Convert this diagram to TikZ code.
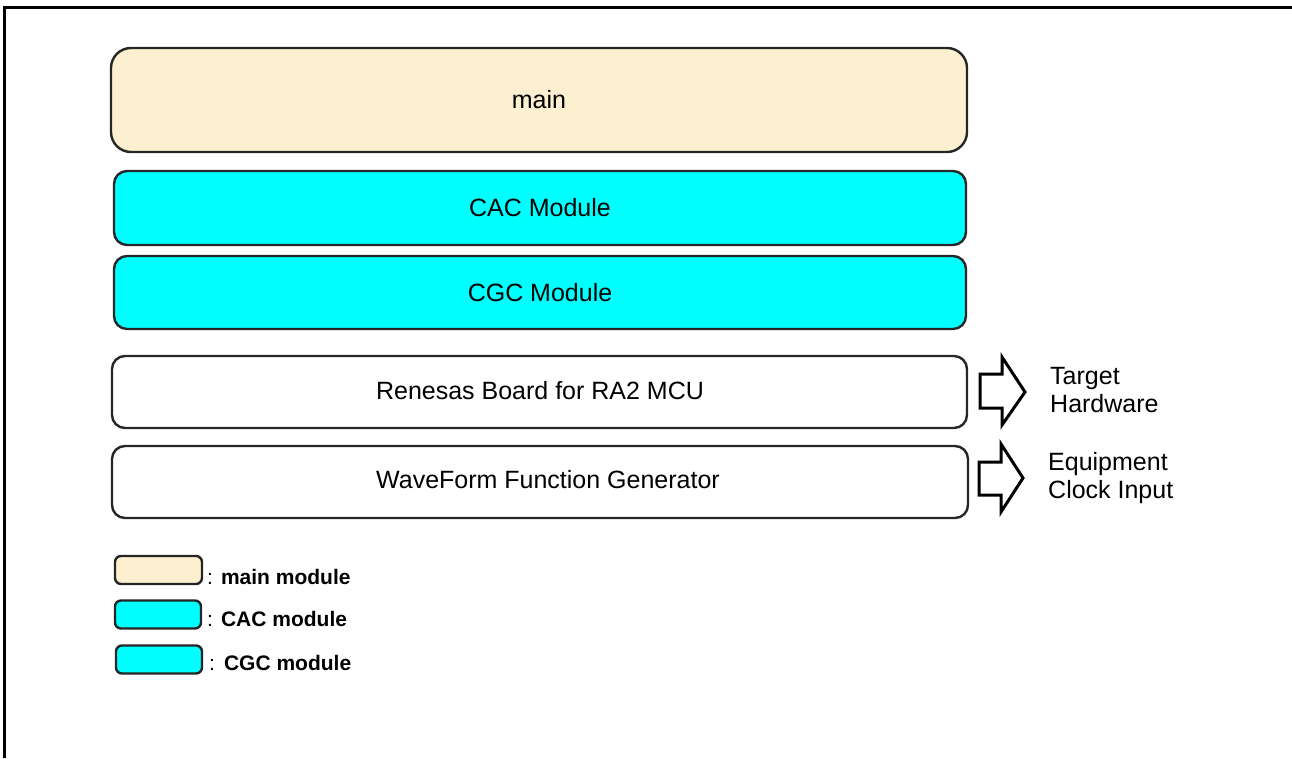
\documentclass[tikz,border=0pt]{standalone}
\usepackage{fontspec}
\setmainfont{Liberation Sans}
\begin{document}
\begin{tikzpicture}[x=1pt,y=-1pt,
  layer/.style={draw=black!85,line width=2.4pt,rounded corners=13pt,inner sep=0pt,
    font=\fontsize{25}{29}\selectfont},
  mainfill/.style={fill=mainc},
  modfill/.style={fill=modc},
  legbox/.style={draw=black!85,line width=2.4pt,rounded corners=6pt,inner sep=0pt,
    minimum width=86pt,minimum height=28pt},
  legtext/.style={anchor=west,inner sep=0pt,font=\fontsize{21}{24}\selectfont\bfseries},
  sidetext/.style={anchor=west,inner sep=0pt,align=left,font=\fontsize{25}{28}\selectfont},
  blockarrow/.style={draw=black,line width=3pt,fill=white,line join=miter}
]
\definecolor{mainc}{RGB}{253,240,208}
\definecolor{modc}{RGB}{0,255,255}
\useasboundingbox (0,0) rectangle (1292,758);

% outer frame: top and left edges only
\draw[line width=3pt] (4,758) -- (4,7) -- (1292,7);

% software / hardware layers
\node[layer,mainfill,rounded corners=20pt,minimum width=856pt,minimum height=104pt]
  (main) at (539,100) {main};
\node[layer,modfill,minimum width=852pt,minimum height=74pt] (cac) at (540,208) {CAC Module};
\node[layer,modfill,minimum width=852pt,minimum height=73pt] (cgc) at (540,292.5) {CGC Module};
\node[layer,fill=white,minimum width=855pt,minimum height=72pt] (board) at (539.5,392) {};
\node[layer,draw=none] at (540,391) {Renesas Board for RA2 MCU};
\node[layer,fill=white,minimum width=856pt,minimum height=72pt] (wave) at (540,482) {};
\node[layer,draw=none] at (548,480) {WaveForm Function Generator};

% block arrows to the side labels
\draw[blockarrow] (980,374) -- (1002,374) -- (1002,357) -- (1025,392) -- (1002,425)
  -- (1002,408) -- (980,408) -- cycle;
\draw[blockarrow] (979,462) -- (1001,462) -- (1001,444) -- (1023,478) -- (1001,512)
  -- (1001,495) -- (979,495) -- cycle;
\node[sidetext] (hw) at (1050,390) {Target\\Hardware};
\node[sidetext] (eq) at (1048,478) {Equipment\\Clock Input};

% legend
\node[legbox,fill=mainc,minimum width=87pt] (lmain) at (158.5,570) {};
\node[legtext] (tmain) at (207,577) {{\mdseries:}\hspace{8pt}main module};
\node[legbox,fill=modc] (lcac) at (158,614.5) {};
\node[legtext] (tcac) at (207,619) {{\mdseries:}\hspace{8pt}CAC module};
\node[legbox,fill=modc] (lcgc) at (159,659.5) {};
\node[legtext] (tcgc) at (209,663) {{\mdseries:}\hspace{9pt}CGC module};
\end{tikzpicture}
\end{document}
